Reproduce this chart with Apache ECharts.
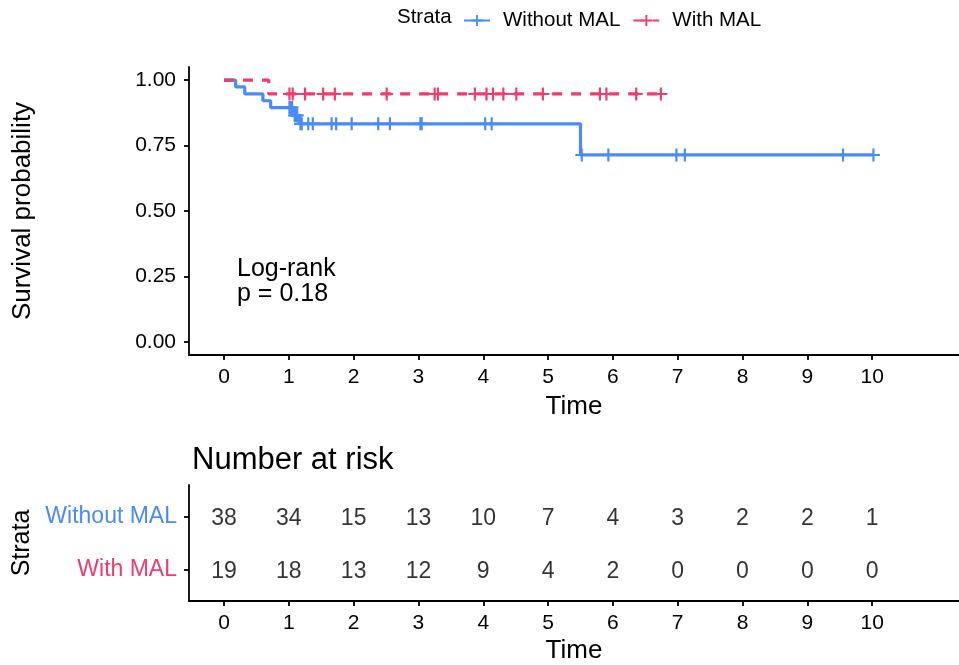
<!DOCTYPE html>
<html>
<head>
<meta charset="utf-8">
<script src="https://cdn.jsdelivr.net/npm/echarts@6/dist/echarts.min.js"></script>
<style>
html,body{margin:0;padding:0;background:#fff;}
#main{width:959px;height:665px;}
</style>
</head>
<body>
<div id="main"></div>
<script>
// kaplan-meier steps: [time, survival]
var steps_without = [[0,1],[0.18,0.974],[0.32,0.947],[0.60,0.921],[0.72,0.895],[1.07,0.865],[1.16,0.833],[5.50,0.714],[10.02,0.714]];
var steps_with = [[0,1],[0.69,0.947],[6.76,0.947]];
// censor marks
var cens_without = [[1.01,0.895],[1.03,0.895],[1.05,0.895],[1.09,0.865],[1.11,0.865],[1.13,0.865],
    [1.18,0.833],[1.20,0.833],[1.30,0.833],[1.37,0.833],[1.66,0.833],[1.73,0.833],[1.97,0.833],
    [2.38,0.833],[2.56,0.833],[3.03,0.833],[3.05,0.833],[4.03,0.833],[4.13,0.833],
    [5.52,0.714],[5.93,0.714],[6.98,0.714],[7.11,0.714],[9.55,0.714],[10.02,0.714]];
var cens_with = [[1.01,0.947],[1.06,0.947],[1.25,0.947],[1.53,0.947],[1.71,0.947],[2.51,0.947],
    [3.25,0.947],[3.30,0.947],[3.87,0.947],[4.05,0.947],[4.15,0.947],[4.31,0.947],[4.51,0.947],
    [4.92,0.947],[5.80,0.947],[5.90,0.947],[6.36,0.947],[6.74,0.947]];
// number at risk
var risk_times = [0,1,2,3,4,5,6,7,8,9,10];
var risk_without = [38,34,15,13,10,7,4,3,2,2,1];
var risk_with = [19,18,13,12,9,4,2,0,0,0,0];
var surv_ticks = [0,0.25,0.5,0.75,1];

var blue = '#4A8CF7', pink = '#F23B6D';
var font = 'Liberation Sans, Arial, sans-serif';
var plus = 'path://M5,0h2v12h-2z M0,5h12v2h-12z';

var chart = echarts.init(document.getElementById('main'));

function risk_points(row, vals){
    var out = [];
    for(var i=0;i<risk_times.length;i++){
        out.push([risk_times[i], row, vals[i]]);
    }
    return out;
}

var axisLine = {onZero:false,lineStyle:{color:'#000',width:1.8}};
var tickStyle = {color:'#000',width:1.8};
var riskLabel = {show:true,position:'inside',fontFamily:font,fontSize:23,color:'#000',
    textBorderWidth:0,textBorderColor:'transparent',offset:[0,2],
    formatter:function(p){ return p.value[2]; }};

option = {
    animation:false,
    textStyle:{fontFamily:font},
    legend:{
        data:['Without MAL','With MAL'],
        left:463, top:10, padding:0,
        itemWidth:26, itemHeight:14, itemGap:12,
        formatter:function(n){ return '{t|'+n+'}'; },
        textStyle:{fontFamily:font,fontSize:20.5,color:'#000',rich:{t:{fontFamily:font,fontSize:20.5,color:'#000',padding:[0,0,0,8]}}}
    },
    title:{
        text:'Number at risk', left:187, top:440,
        textStyle:{fontFamily:font,fontSize:31,fontWeight:'normal',color:'#000'}
    },
    graphic:[
        {type:'text',left:397,top:7,style:{text:'Strata',font:'20.5px '+font,fill:'#000'}},
        {type:'text',left:237,top:257,style:{text:'Log-rank\np = 0.18',font:'25px '+font,lineHeight:25,fill:'#000'}}
    ],
    grid:[
        {left:189,top:67,right:0,height:288},
        {left:189,top:485,right:0,height:117}
    ],
    xAxis:[
        {
            type:'value',gridIndex:0,min:-0.54,max:11.34,
            name:'Time',nameLocation:'middle',nameGap:39,
            nameTextStyle:{fontFamily:font,fontSize:26,color:'#000'},
            axisLine:axisLine,splitLine:{show:false},
            axisLabel:{customValues:risk_times,fontFamily:font,fontSize:21,color:'#000',margin:12},
            axisTick:{customValues:risk_times,lineStyle:tickStyle,length:5}
        },
        {
            type:'value',gridIndex:1,min:-0.54,max:11.34,
            name:'Time',nameLocation:'middle',nameGap:37,
            nameTextStyle:{fontFamily:font,fontSize:26,color:'#000'},
            axisLine:axisLine,splitLine:{show:false},
            axisLabel:{customValues:risk_times,fontFamily:font,fontSize:21,color:'#000',margin:12},
            axisTick:{customValues:risk_times,lineStyle:tickStyle,length:5}
        }
    ],
    yAxis:[
        {
            type:'value',gridIndex:0,min:-0.05,max:1.05,
            name:'Survival probability',nameLocation:'middle',nameGap:153,nameRotate:90,
            nameTextStyle:{fontFamily:font,fontSize:26,color:'#000'},
            axisLine:axisLine,splitLine:{show:false},
            axisLabel:{customValues:surv_ticks,fontFamily:font,fontSize:21,color:'#000',margin:13,
                formatter:function(v){ return v.toFixed(2); }},
            axisTick:{customValues:surv_ticks,lineStyle:tickStyle,length:5}
        },
        {
            type:'value',gridIndex:1,min:0.4,max:2.6,
            name:'Strata',nameLocation:'middle',nameGap:154,nameRotate:90,
            nameTextStyle:{fontFamily:font,fontSize:25,color:'#000'},
            axisLine:axisLine,splitLine:{show:false},
            axisLabel:{customValues:[1,2],margin:12,
                formatter:function(v){ return v==2 ? '{a|Without MAL}' : '{b|With MAL}'; },
                rich:{a:{fontFamily:font,fontSize:23,color:blue},b:{fontFamily:font,fontSize:23,color:pink}}},
            axisTick:{customValues:[1,2],lineStyle:tickStyle,length:5}
        }
    ],
    series:[
        {
            name:'Without MAL',type:'line',step:'end',data:steps_without,
            showSymbol:false,symbol:plus,symbolSize:12,
            itemStyle:{color:blue},
            lineStyle:{color:blue,width:3.2}
        },
        {
            name:'With MAL',type:'line',step:'end',data:steps_with,
            showSymbol:false,symbol:plus,symbolSize:12,
            itemStyle:{color:pink},
            lineStyle:{color:pink,width:3.2,type:[10,9]}
        },
        {
            name:'cens_without',type:'scatter',data:cens_without,
            symbol:plus,symbolSize:13,itemStyle:{color:blue,opacity:1}
        },
        {
            name:'cens_with',type:'scatter',data:cens_with,
            symbol:plus,symbolSize:13,itemStyle:{color:pink,opacity:1}
        },
        {
            name:'risk_without',type:'scatter',xAxisIndex:1,yAxisIndex:1,
            data:risk_points(2, risk_without),symbolSize:1,itemStyle:{color:'transparent'},
            label:riskLabel
        },
        {
            name:'risk_with',type:'scatter',xAxisIndex:1,yAxisIndex:1,
            data:risk_points(1, risk_with),symbolSize:1,itemStyle:{color:'transparent'},
            label:riskLabel
        }
    ]
};
chart.setOption(option);
</script>
</body>
</html>
